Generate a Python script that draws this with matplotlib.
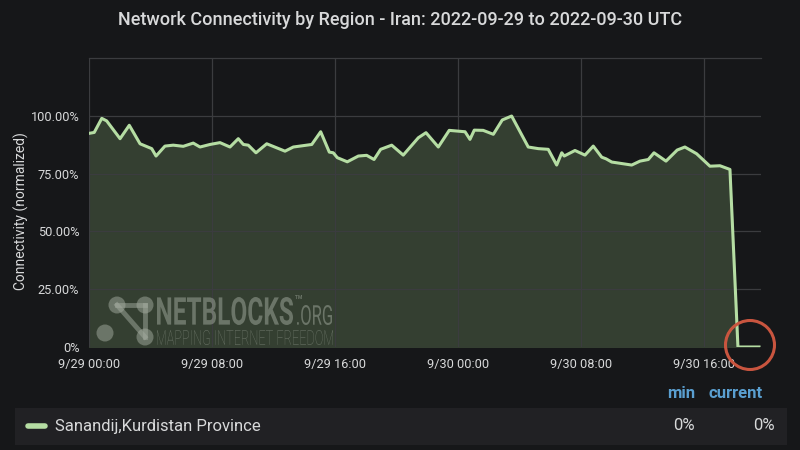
import matplotlib
matplotlib.use('Agg')
import matplotlib.pyplot as plt
import matplotlib.patches as mpatches
import matplotlib.dates as mdates
from matplotlib.textpath import TextPath
from matplotlib.font_manager import FontProperties
from matplotlib.transforms import Affine2D
import pandas as pd

# Hours after 2022-09-29 00:00 UTC and normalized connectivity (%)
hours = [0.0, 0.34, 0.83, 1.15, 2.02, 2.62, 3.32, 4.08, 4.36, 4.94,
         5.48, 6.13, 6.78, 7.22, 7.87, 8.52, 9.17, 9.71, 10.04, 10.36,
         10.86, 11.56, 12.75, 13.29, 14.49, 15.07, 15.63, 15.89, 16.15, 16.80,
         17.52, 18.06, 18.54, 18.97, 19.69, 20.44, 21.42, 21.92, 22.72, 23.43,
         24.46, 24.78, 25.06, 25.64, 26.30, 26.88, 27.49, 28.57, 29.22, 29.87,
         30.42, 30.75, 30.91, 31.61, 32.26, 32.80, 33.35, 33.63, 34.00, 35.30,
         35.84, 36.38, 36.75, 37.53, 38.26, 38.76, 39.52, 40.39, 41.04, 41.69,
         42.21, 43.58]
connectivity = [92.4, 92.8, 98.9, 97.8, 90.1, 95.9, 87.9, 85.8, 82.6, 86.9,
                87.3, 86.8, 88.2, 86.5, 87.6, 88.4, 86.5, 90.1, 87.6, 87.3,
                84.0, 87.9, 84.7, 86.5, 87.6, 93.1, 84.3, 84.0, 81.9, 80.1,
                82.6, 82.9, 81.1, 85.5, 87.3, 83.0, 90.5, 92.7, 86.5, 93.7,
                93.1, 89.8, 93.8, 93.7, 92.0, 98.2, 99.9, 86.5, 85.8, 85.5,
                78.7, 84.0, 82.6, 85.0, 83.0, 86.9, 82.1, 81.4, 80.0, 78.7,
                80.4, 81.1, 84.0, 80.4, 85.2, 86.5, 83.6, 78.2, 78.4, 76.8,
                0.0, 0.0]
series_name = 'Sanandij,Kurdistan Province'
y_ticks = [0, 25, 50, 75, 100]
y_tick_labels = ['0%', '25.00%', '50.00%', '75.00%', '100.00%']
x_tick_hours = [0, 8, 16, 24, 32, 40]
legend_min = '0%'
legend_current = '0%'

start = pd.Timestamp('2022-09-29 00:00')
times = [start + pd.Timedelta(hours=h) for h in hours]
x_ticks = [start + pd.Timedelta(hours=h) for h in x_tick_hours]

bg = '#161719'
grid_c = '#3b3c3f'
text_c = '#d8d9da'
line_c = '#b5dda3'
fill_c = '#343f31'

plt.rcParams['font.family'] = ['Roboto', 'DejaVu Sans']

fig = plt.figure(figsize=(8, 4.5), dpi=100, facecolor=bg)
ax = fig.add_axes([89 / 800, 1 - 347 / 450, (761 - 89) / 800, (347 - 58) / 450])
ax.set_facecolor(bg)

ax.fill_between(times, connectivity, 0, color=fill_c, zorder=1)
ax.plot(times, connectivity, color=line_c, lw=2.2, zorder=3)

ax.set_xlim(start, start + pd.Timedelta(hours=43.71))
ax.set_ylim(0, 125)
ax.set_yticks(y_ticks)
ax.set_yticklabels(y_tick_labels)
ax.set_xticks(x_ticks)
ax.xaxis.set_major_formatter(mdates.DateFormatter('%-m/%d %H:%M'))
ax.tick_params(colors=text_c, labelsize=9.2, length=0, pad=7)
ax.tick_params(axis='x', pad=8)
ax.grid(True, color=grid_c, lw=0.9, zorder=2)
ax.set_axisbelow(False)
for side in ['left', 'right', 'bottom']:
    ax.spines[side].set_visible(False)
ax.spines['top'].set_color(grid_c)
ax.spines['top'].set_linewidth(0.9)

ax.set_ylabel('Connectivity (normalized)', color=text_c, fontsize=10, labelpad=3)
ax.yaxis.set_label_coords(-0.089, 0.47)

fig.text(0.5, 1 - 20 / 450, 'Network Connectivity by Region - Iran: 2022-09-29 to 2022-09-30 UTC',
         ha='center', va='center', color=text_c, fontsize=13, fontweight='medium')


def fpt(x, y):
    return (x / 800, 1 - y / 450)


def squeezed_text(s, left, top, right, bottom, weight, color, alpha):
    # text drawn as a path stretched to fit a pixel box (top-left origin)
    tp = TextPath((0, 0), s, size=100, prop=FontProperties(family='Roboto', weight=weight))
    bb = tp.get_extents()
    tr = (Affine2D().translate(-bb.x0, -bb.y0)
          .scale((right - left) / bb.width, (bottom - top) / bb.height)
          .translate(left, 450 - bottom).scale(0.01) + fig.dpi_scale_trans)
    fig.add_artist(mpatches.PathPatch(tp, transform=tr, color=color, alpha=alpha, lw=0))


# NetBlocks watermark
wm = '#a3ab9f'
wa = 0.5
nodes = [(117, 305), (145, 305), (105, 333), (145, 337)]
for a, b in [(0, 1), (0, 3), (1, 3)]:
    (x1, y1), (x2, y2) = fpt(*nodes[a]), fpt(*nodes[b])
    fig.add_artist(plt.Line2D([x1, x2], [y1, y2], color=wm, alpha=wa, lw=3.5,
                              transform=fig.transFigure))
for n in nodes:
    fig.add_artist(mpatches.Circle((n[0] / 100, (450 - n[1]) / 100), 0.085,
                                   transform=fig.dpi_scale_trans, color=wm, alpha=wa, lw=0))
squeezed_text('NETBLOCKS', 157, 297, 293, 325, 'bold', wm, wa)
squeezed_text('TM', 295, 295, 302, 299, 'bold', wm, wa)
squeezed_text('.ORG', 297, 305, 332, 325, 'normal', wm, wa)
squeezed_text('MAPPING INTERNET FREEDOM', 157, 330, 333, 345, 'light', wm, wa)

# red highlight circle around the outage
fig.add_artist(mpatches.Circle((750 / 100, (450 - 345) / 100), 0.245,
                               transform=fig.dpi_scale_trans, fill=False,
                               ec='#c9553f', lw=2.2))

# legend table
fig.add_artist(mpatches.Rectangle(fpt(15, 445), (787 - 15) / 800, 37 / 450,
                                  transform=fig.transFigure, color='#212124', lw=0))
fig.add_artist(plt.Line2D([28 / 800, 45 / 800], [1 - 426 / 450] * 2, color=line_c, lw=4,
                          solid_capstyle='round', transform=fig.transFigure))
fig.text(*fpt(55, 426), series_name, ha='left', va='center', color=text_c, fontsize=12)
fig.text(*fpt(695, 426), legend_min, ha='right', va='center', color=text_c, fontsize=12)
fig.text(*fpt(775, 426), legend_current, ha='right', va='center', color=text_c, fontsize=12)
fig.text(*fpt(681, 393), 'min', ha='center', va='center', color='#5a9fd0',
         fontsize=12, fontweight='bold')
fig.text(*fpt(736, 393), 'current', ha='center', va='center', color='#5a9fd0',
         fontsize=12, fontweight='bold')

fig.savefig('out.png', dpi=100, facecolor=bg)
